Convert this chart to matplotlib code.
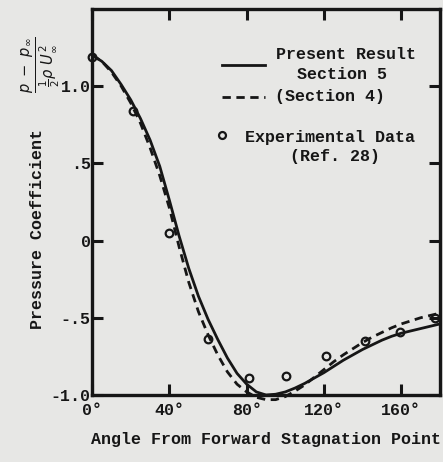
import numpy as np
import matplotlib
matplotlib.use("Agg")
import matplotlib.pyplot as plt

# 現在の結果 (Section 5) - 実線
angle_present = [0, 5, 10, 15, 20, 25, 30, 35, 40, 45, 50, 55, 60, 65, 70, 75, 80,
                 85, 90, 95, 100, 105, 110, 115, 120, 125, 130, 135, 140, 145, 150,
                 155, 160, 165, 170, 175, 180]
cp_present = [1.20, 1.16, 1.10, 1.01, 0.91, 0.79, 0.65, 0.48, 0.26, 0.03, -0.18,
              -0.36, -0.51, -0.64, -0.76, -0.86, -0.93, -0.98, -1.00, -0.995, -0.98,
              -0.955, -0.925, -0.89, -0.855, -0.815, -0.775, -0.74, -0.705, -0.675,
              -0.645, -0.62, -0.60, -0.585, -0.57, -0.555, -0.54]

# Section 4 - 破線
angle_sec4 = [0, 5, 10, 15, 20, 25, 30, 35, 40, 45, 50, 55, 60, 65, 70, 75, 80,
              85, 90, 95, 100, 105, 110, 115, 120, 125, 130, 135, 140, 145, 150,
              155, 160, 165, 170, 175, 180]
cp_sec4 = [1.20, 1.16, 1.09, 1.00, 0.89, 0.76, 0.60, 0.42, 0.21, -0.04, -0.27,
           -0.46, -0.61, -0.74, -0.85, -0.93, -0.98, -1.015, -1.03, -1.03, -1.01,
           -0.975, -0.935, -0.885, -0.835, -0.785, -0.74, -0.70, -0.66, -0.625,
           -0.595, -0.565, -0.54, -0.52, -0.50, -0.485, -0.47]

# 実験データ (Ref. 28)
angle_exp = [0, 21, 40, 60, 81, 100.5, 121, 141, 159.5, 177.6]
cp_exp = [1.19, 0.84, 0.05, -0.64, -0.89, -0.88, -0.75, -0.65, -0.59, -0.50]

x_ticks = [0, 40, 80, 120, 160]
x_ticklabels = ["0°", "40°", "80°", "120°", "160°"]
y_ticks = [-1.0, -0.5, 0, 0.5, 1.0]
y_ticklabels = ["-1.0", "-.5", "0", ".5", "1.0"]

ink = "#161616"
bg = "#e7e7e5"
font = "Liberation Mono"

fig = plt.figure(figsize=(4.43, 4.62), dpi=100, facecolor=bg)
ax = fig.add_axes([0.208, 0.145, 0.785, 0.836], facecolor=bg)

ax.plot(angle_present, cp_present, color=ink, lw=2.0, clip_on=False)
ax.plot(angle_sec4, cp_sec4, color=ink, lw=2.0, ls=(0, (3, 2)), clip_on=False)
ax.plot(angle_exp, cp_exp, ls="none", marker="o", ms=5.5, mfc="none",
        mec=ink, mew=1.6, clip_on=False)

ax.set_xlim(0, 180)
ax.set_ylim(-1.0, 1.5)
ax.set_xticks(x_ticks)
ax.set_xticklabels(x_ticklabels)
ax.set_yticks(y_ticks)
ax.set_yticklabels(y_ticklabels)
ax.tick_params(direction="in", length=8, width=2.2, color=ink,
               top=True, right=True, labelsize=12, labelcolor=ink)
ax.tick_params(axis="y", pad=1)
ax.tick_params(axis="x", pad=6)
for lab in ax.get_xticklabels() + ax.get_yticklabels():
    lab.set_fontfamily(font)
    lab.set_fontweight("bold")
for s in ax.spines.values():
    s.set_linewidth(2.4)
    s.set_color(ink)

ax.set_xlabel("Angle From Forward Stagnation Point", fontsize=12,
              fontfamily=font, fontweight="bold", color=ink, labelpad=10)
ax.text(-0.157, 0.43, "Pressure Coefficient", transform=ax.transAxes,
        rotation=90, ha="center", va="center", fontsize=12,
        fontfamily=font, fontweight="bold", color=ink)
ax.text(-0.147, 0.855, r"$\frac{p\ -\ p_\infty}{\frac{1}{2}\rho\ U_\infty^{\,2}}$",
        transform=ax.transAxes, rotation=90, ha="center", va="center",
        fontsize=15, color=ink)

# 凡例 (手書き配置)
ax.plot([0.374, 0.497], [0.855, 0.855], transform=ax.transAxes, color=ink, lw=2.0)
ax.plot([0.374, 0.497], [0.772, 0.772], transform=ax.transAxes, color=ink, lw=2.0,
        ls=(0, (3, 2)))
ax.plot([0.374], [0.674], transform=ax.transAxes, ls="none", marker="o", ms=5,
        mfc="none", mec=ink, mew=1.6)
legend_texts = [("Present Result", 0.730, 0.881), ("Section 5", 0.718, 0.829),
                ("(Section 4)", 0.684, 0.772), ("Experimental Data", 0.684, 0.666),
                ("(Ref. 28)", 0.698, 0.617)]
for t, x, y in legend_texts:
    ax.text(x, y, t, transform=ax.transAxes, ha="center", va="center",
            fontsize=12, fontfamily=font, fontweight="bold", color=ink)

fig.savefig("out.png", dpi=100, facecolor=bg)
